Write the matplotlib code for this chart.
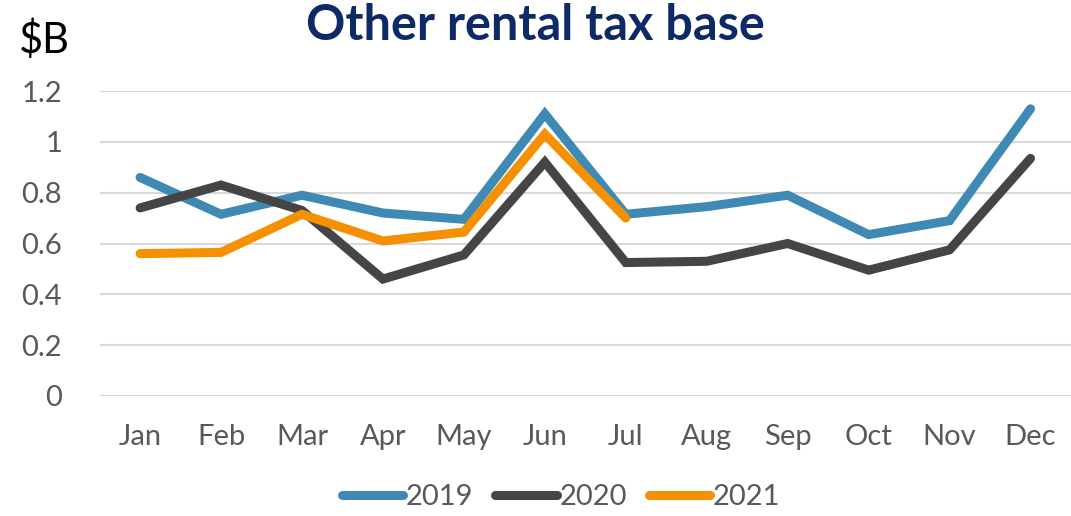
import matplotlib
matplotlib.use("Agg")
import matplotlib.pyplot as plt

plt.rcParams['font.family'] = ['Lato', 'DejaVu Sans']

months = ['Jan', 'Feb', 'Mar', 'Apr', 'May', 'Jun', 'Jul', 'Aug', 'Sep', 'Oct', 'Nov', 'Dec']
y2019 = [0.86, 0.715, 0.79, 0.72, 0.695, 1.11, 0.715, 0.745, 0.79, 0.635, 0.69, 1.13]
y2020 = [0.74, 0.83, 0.73, 0.46, 0.555, 0.92, 0.525, 0.53, 0.60, 0.495, 0.575, 0.935]
y2021 = [0.56, 0.565, 0.715, 0.61, 0.645, 1.03, 0.70]
yticks = [0, 0.2, 0.4, 0.6, 0.8, 1, 1.2]
ytick_labels = ['0', '0.2', '0.4', '0.6', '0.8', '1', '1.2']

fig = plt.figure(figsize=(10.71, 5.16), dpi=100)
ax = fig.add_axes([0.093, 0.2326, 0.907, 0.591])

lw = 6.5
ax.plot(range(len(y2019)), y2019, color='#3F8AB5', lw=lw, label='2019', solid_capstyle='round', solid_joinstyle='miter')
ax.plot(range(len(y2020)), y2020, color='#454545', lw=lw, label='2020', solid_capstyle='round', solid_joinstyle='miter')
ax.plot(range(len(y2021)), y2021, color='#F59100', lw=lw, label='2021', solid_capstyle='round', solid_joinstyle='miter')

ax.set_xlim(-0.5, len(months) - 0.5)
ax.set_ylim(0, 1.2)
ax.set_xticks(range(len(months)))
ax.set_xticklabels(months)
ax.set_yticks(yticks)
ax.set_yticklabels(ytick_labels)
ax.tick_params(length=0, labelsize=21, labelcolor='#595959')
ax.tick_params(axis='x', pad=20)
ax.tick_params(axis='y', pad=27)
ax.grid(axis='y', color='#D9D9D9', lw=1.5)
ax.set_axisbelow(True)
for s in ax.spines.values():
    s.set_visible(False)
for l in ax.get_lines():
    l.set_clip_on(False)

fig.text(0.5, 0.95, 'Other rental tax base', ha='center', va='center',
         fontsize=35, fontweight='bold', color='#0D2A66')
fig.text(0.018, 0.922, '$B', ha='left', va='center', fontsize=30, color='black')

leg = fig.legend(loc='center', bbox_to_anchor=(0.524, 0.037), ncol=3, frameon=False,
                 fontsize=21, handlelength=2.1, handletextpad=0.1, columnspacing=0.75)
for t in leg.get_texts():
    t.set_color('#595959')

fig.savefig('out.png', dpi=100)
